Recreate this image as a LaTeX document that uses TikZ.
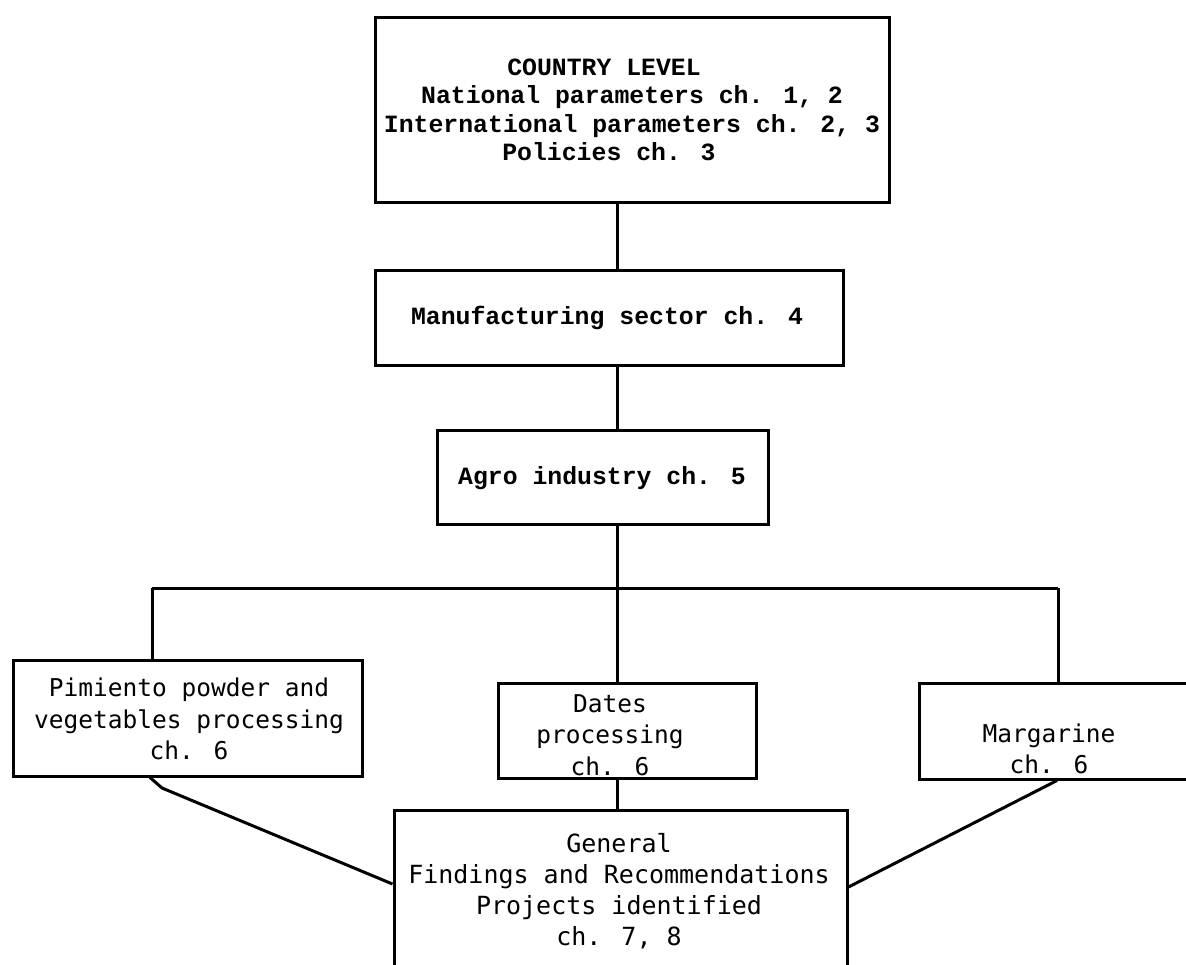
\documentclass[tikz,border=0pt]{standalone}
\usepackage{fontspec}
\newfontfamily\topfont{Liberation Mono}
\newfontfamily\lowfont{DejaVu Sans Mono}
\usetikzlibrary{calc}
\tikzset{
  box/.style={draw, line width=3pt, inner sep=0pt, rectangle},
  conn/.style={line width=3pt},
  toptext/.style={align=center, inner sep=0pt, font=\topfont\bfseries\fontsize{24.8}{28.5}\selectfont},
  lowtext/.style={align=center, inner sep=0pt, font=\lowfont\fontsize{24.5}{31.5}\selectfont},
  bottext/.style={align=center, inner sep=0pt, font=\lowfont\fontsize{25}{30.8}\selectfont},
}
\begin{document}
\begin{tikzpicture}[x=1pt,y=-1pt]
\clip (0,0) rectangle (1186,964);
\fill[white] (0,0) rectangle (1186,964);
% boxes
\node[box, minimum width=514pt, minimum height=185pt] (top) at (632,109.5) {};
\node[box, minimum width=468pt, minimum height=95pt] (manu) at (609,317.5) {};
\node[box, minimum width=331pt, minimum height=94pt] (agro) at (602.5,477) {};
\node[box, minimum width=349pt, minimum height=116pt] (left) at (187.5,718) {};
\node[box, minimum width=258pt, minimum height=95pt] (mid) at (627,730.5) {};
\node[box, minimum width=281pt, minimum height=96pt] (right) at (1059.5,731) {};
\node[box, minimum width=453pt, minimum height=190pt] (bottom) at (620.5,905) {};
% texts
\node[toptext] (toptxt) at (632,110) {COUNTRY LEVEL\hspace*{56pt}\\National parameters ch. 1, 2\hspace*{14pt}\\International parameters ch. 2, 3\\Policies ch. 3\hspace*{46pt}};
\node[toptext] (manutxt) at (607,318) {Manufacturing sector ch. 4};
\node[toptext] (agrotxt) at (602,478) {Agro industry ch. 5};
\node[lowtext] (lefttxt) at (189,719) {Pimiento powder and\\vegetables processing\\ch. 6};
\node[lowtext] (midtxt) at (610,735) {Dates\\processing\\ch. 6};
\node[lowtext] (righttxt) at (1049,749) {Margarine\\ch. 6};
\node[bottext] (bottxt) at (619,891) {General\\Findings and Recommendations\\Projects identified\\ch. 7, 8};
% connectors
\coordinate (j) at (617,588);
\coordinate (jl) at (152,588);
\coordinate (jr) at (1058,588);
\draw[conn] (top.south -| j) -- (manu.north -| j);
\draw[conn] (manu.south -| j) -- (agro.north -| j);
\draw[conn] (agro.south -| j) -- (mid.north -| j);
\draw[conn] (jl) -- (jr);
\draw[conn] (jl) -- (jl |- left.north);
\draw[conn] (jr) -- (jr |- right.north);
\draw[conn] (mid.south -| j) -- (bottom.north -| j);
\coordinate (lx) at (150,0);
\coordinate (lk) at (162,788);
\coordinate (ly) at (0,884);
\coordinate (rx) at (1057,0);
\coordinate (ry) at (0,887);
\draw[conn] (left.south -| lx) -- (lk) -- (bottom.west |- ly);
\draw[conn] (right.south -| rx) -- (bottom.east |- ry);
\end{tikzpicture}
\end{document}
